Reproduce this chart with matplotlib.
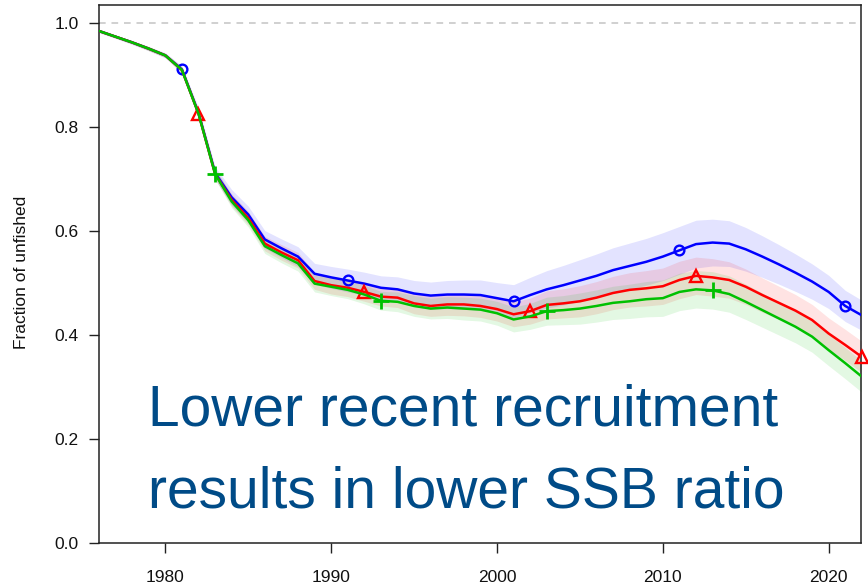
import matplotlib
matplotlib.use("Agg")
import matplotlib.pyplot as plt
from matplotlib import font_manager
import numpy as np

plt.rcParams['font.family'] = ['Liberation Sans', 'DejaVu Sans']

years = list(range(1976, 2023))

blue = [0.985, 0.974, 0.963, 0.951, 0.938, 0.911, 0.827, 0.712, 0.665, 0.632,
        0.584, 0.567, 0.551, 0.518, 0.511, 0.505, 0.499, 0.491, 0.488, 0.480,
        0.476, 0.478, 0.478, 0.477, 0.471, 0.465, 0.477, 0.488, 0.496, 0.505,
        0.514, 0.525, 0.533, 0.541, 0.551, 0.563, 0.575, 0.578, 0.576, 0.565,
        0.551, 0.536, 0.520, 0.503, 0.483, 0.456, 0.438]
red = [0.985, 0.974, 0.963, 0.951, 0.938, 0.910, 0.826, 0.710, 0.660, 0.625,
       0.576, 0.559, 0.544, 0.504, 0.496, 0.491, 0.483, 0.474, 0.472, 0.461,
       0.456, 0.459, 0.459, 0.456, 0.450, 0.440, 0.446, 0.458, 0.461, 0.465,
       0.472, 0.481, 0.487, 0.490, 0.494, 0.506, 0.514, 0.511, 0.506, 0.493,
       0.477, 0.462, 0.447, 0.429, 0.403, 0.381, 0.358]
green = [0.985, 0.974, 0.963, 0.951, 0.938, 0.910, 0.826, 0.710, 0.657, 0.621,
         0.571, 0.554, 0.538, 0.499, 0.493, 0.487, 0.478, 0.466, 0.464, 0.456,
         0.451, 0.453, 0.451, 0.449, 0.442, 0.430, 0.436, 0.446, 0.448, 0.451,
         0.456, 0.462, 0.465, 0.469, 0.471, 0.483, 0.488, 0.486, 0.479, 0.464,
         0.448, 0.432, 0.416, 0.397, 0.371, 0.346, 0.320]

ci_blue = [0.003, 0.003, 0.004, 0.004, 0.005, 0.007, 0.010, 0.012, 0.015, 0.016,
           0.017, 0.018, 0.019, 0.020, 0.021, 0.022, 0.022, 0.023, 0.024, 0.025,
           0.026, 0.027, 0.028, 0.029, 0.030, 0.032, 0.034, 0.036, 0.038, 0.040,
           0.042, 0.043, 0.044, 0.045, 0.046, 0.046, 0.046, 0.045, 0.044, 0.042,
           0.040, 0.038, 0.036, 0.034, 0.032, 0.030, 0.029]
ci_other = [0.003, 0.003, 0.003, 0.004, 0.004, 0.006, 0.008, 0.010, 0.012, 0.013,
            0.014, 0.015, 0.015, 0.016, 0.017, 0.017, 0.018, 0.018, 0.019, 0.020,
            0.020, 0.021, 0.022, 0.022, 0.023, 0.024, 0.025, 0.027, 0.028, 0.030,
            0.031, 0.032, 0.033, 0.034, 0.035, 0.036, 0.036, 0.036, 0.035, 0.034,
            0.033, 0.032, 0.031, 0.030, 0.030, 0.030, 0.030]

blue_marker_years = [1981, 1991, 2001, 2011, 2021]
red_marker_years = [1982, 1992, 2002, 2012, 2022]
green_marker_years = [1983, 1993, 2003, 2013]

y_ticks = [0.0, 0.2, 0.4, 0.6, 0.8, 1.0]
x_ticks = [1980, 1990, 2000, 2010, 2020]
y_label = "Fraction of unfished"
message_lines = ["Lower recent recruitment", "results in lower SSB ratio"]

C_BLUE = '#0000FF'
C_RED = '#FF0000'
C_GREEN = '#00C000'

# choose a narrow sans face if available
installed = {f.name for f in font_manager.fontManager.ttflist}
if 'Liberation Sans Narrow' in installed:
    msg_family = ['Liberation Sans Narrow', 'Liberation Sans', 'DejaVu Sans']
    msg_size = 49
else:
    msg_family = ['Liberation Sans', 'DejaVu Sans']
    msg_size = 41

fig = plt.figure(figsize=(8.68, 5.88), dpi=100)
ax = fig.add_axes([99/868, 45/588, (861-99)/868, (543-5)/588])

yr = np.array(years, dtype=float)
series = [(np.array(blue), np.array(ci_blue), C_BLUE, 'o', blue_marker_years, 7, 1.7),
          (np.array(red), np.array(ci_other), C_RED, '^', red_marker_years, 8.5, 1.7),
          (np.array(green), np.array(ci_other), C_GREEN, '+', green_marker_years, 11, 2.0)]

for vals, ci, col, _, _, _, _ in series:
    ax.fill_between(yr, vals - ci, vals + ci, color=col, alpha=0.11, lw=0, zorder=1)

ax.axhline(1.0, color='#C8C8C8', ls=(0, (4, 3.5)), lw=1.2, zorder=1)

for i, (vals, ci, col, mk, myears, ms, mew) in enumerate(series):
    ax.plot(yr, vals, color=col, lw=1.8, zorder=3 + i, solid_joinstyle='round')
    idx = [years.index(y) for y in myears]
    ax.plot(yr[idx], vals[idx], ls='none', marker=mk, ms=ms, mfc='none',
            mec=col, mew=mew, zorder=3 + i, clip_on=False)

ax.set_xlim(1976, 2021.95)
ax.set_ylim(0, 1.035)
ax.set_xticks(x_ticks)
ax.set_yticks(y_ticks)
ax.set_yticklabels([f"{v:.1f}" for v in y_ticks])
ax.tick_params(axis='both', direction='out', length=7.5, width=1, color='#222222',
               labelsize=12.5, labelcolor='#111111')
ax.tick_params(axis='x', pad=12)
ax.tick_params(axis='y', pad=7)
for s in ax.spines.values():
    s.set_color('#222222')
    s.set_linewidth(1.1)

fig.text(22/868, 1 - 272/588, y_label, rotation=90, ha='center', va='center',
         fontsize=12.5, color='#111111')

for line, base_px in zip(message_lines, [425, 508]):
    fig.text(148/868, 1 - base_px/588, line, ha='left', va='baseline',
             fontsize=msg_size, family=msg_family, color='#004B87', zorder=10)

fig.savefig('out.png', dpi=100)
